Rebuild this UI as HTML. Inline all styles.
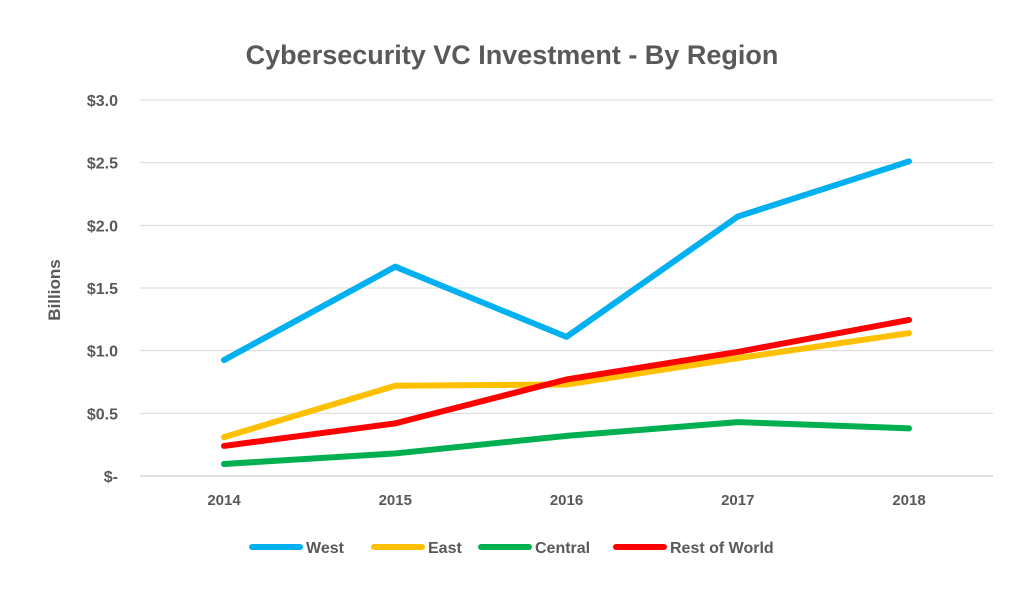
<!DOCTYPE html>
<html><head><meta charset="utf-8"><style>
body{margin:0;background:#fff;}
svg text{font-family:"Liberation Sans",sans-serif;fill:#595959;font-weight:bold;}
</style></head><body>
<svg id="chart" width="1024" height="584" viewBox="0 0 1024 584">
<text x="512" y="64" text-anchor="middle" font-size="27">Cybersecurity VC Investment - By Region</text>
<g id="grid"></g><g id="yticks"></g><g id="xticks"></g><g id="lines"></g>
<text transform="translate(60,290) rotate(-90)" text-anchor="middle" font-size="17">Billions</text>
<g id="legend"></g>
</svg>
<script>
const categories=["2014","2015","2016","2017","2018"];
const west=[0.925,1.67,1.11,2.07,2.51];
const east=[0.31,0.72,0.73,0.94,1.14];
const central=[0.096,0.18,0.32,0.43,0.38];
const restOfWorld=[0.24,0.42,0.77,0.99,1.245];
const yTicks=[0,0.5,1.0,1.5,2.0,2.5,3.0];
const yTickLabels=["$-","$0.5","$1.0","$1.5","$2.0","$2.5","$3.0"];
const seriesNames=["West","East","Central","Rest of World"];
const NS="http://www.w3.org/2000/svg";
const y=v=>476-v*(376/3);
const x=i=>224+i*171.25;
function mk(tag,attrs,parent){const e=document.createElementNS(NS,tag);for(const k in attrs)e.setAttribute(k,attrs[k]);parent.appendChild(e);return e;}
const grid=document.getElementById('grid'),yt=document.getElementById('yticks'),xt=document.getElementById('xticks'),lines=document.getElementById('lines'),leg=document.getElementById('legend');
yTicks.forEach((v,i)=>{
 const l=mk('line',{x1:140,x2:993,y1:y(v),y2:y(v),stroke:i==0?'#bfbfbf':'#d9d9d9','stroke-width':1},grid);
 
 
 const t=mk('text',{x:118,y:y(v)+6,'text-anchor':'end','font-size':16},yt);t.textContent=yTickLabels[i];
 
 
});
categories.forEach((c,i)=>{
 const t=mk('text',{x:x(i),y:505,'text-anchor':'middle','font-size':15},xt);t.textContent=c;
 
 
});
const data=[west,east,central,restOfWorld];
const colors=["#00b0f0","#ffc000","#00b050","#ff0000"];
data.forEach((s,k)=>{
 const p=mk('polyline',{points:s.map((v,i)=>x(i)+','+y(v)).join(' '),fill:'none',stroke:colors[k],'stroke-width':6,'stroke-linecap':'round','stroke-linejoin':'round'},lines);
 
 
});
const lx=[252,374,481,616];
seriesNames.forEach((n,k)=>{
 const l=mk('line',{x1:lx[k],x2:lx[k]+48,y1:547,y2:547,stroke:colors[k],'stroke-width':6,'stroke-linecap':'round'},leg);
 
 
 const t=mk('text',{x:lx[k]+54,y:553,'font-size':16},leg);t.textContent=n;
 
 
});
</script>
</body></html>
